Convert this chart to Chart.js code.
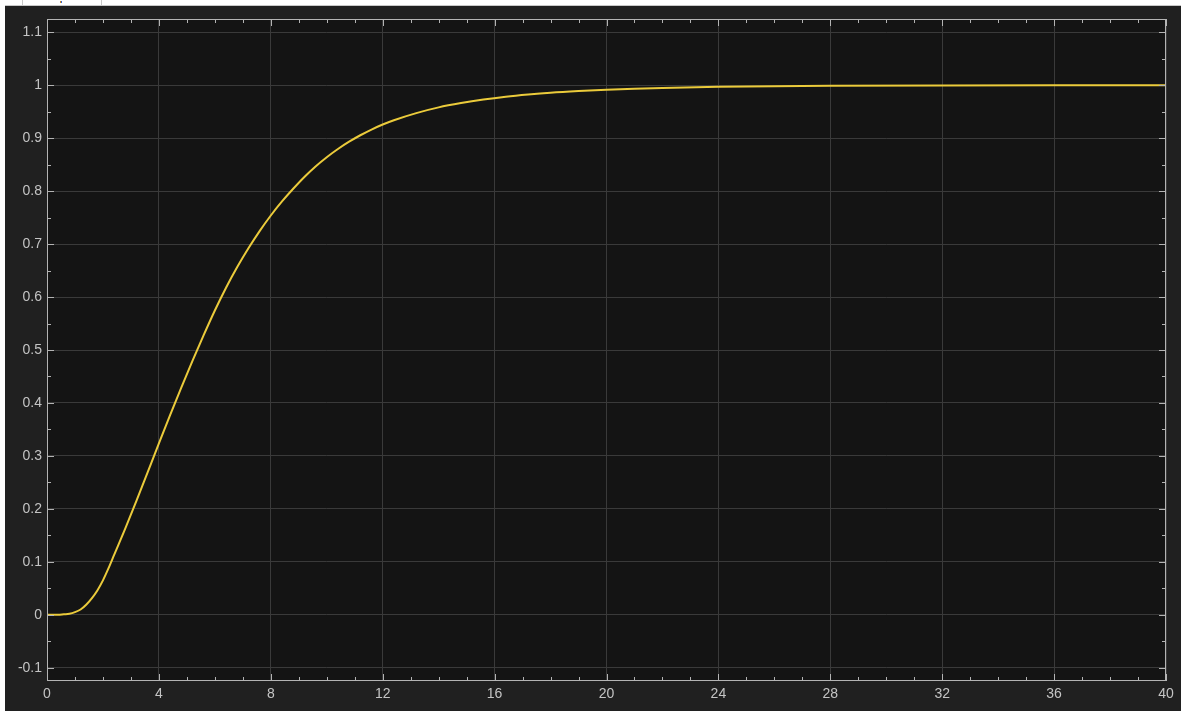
<!DOCTYPE html>
<html>
<head>
<meta charset="utf-8">
<script src="https://cdn.jsdelivr.net/npm/chart.js@4/dist/chart.umd.min.js"></script>
<style>
  html, body { margin: 0; padding: 0; background: #ffffff; }
  #wrap { position: relative; width: 1181px; height: 711px; }
</style>
</head>
<body>
<div id="wrap"><canvas id="scope"></canvas></div>
<script>
// step response samples (time in s, output)
const timeValues = [0, 0.4, 0.6, 0.8, 1.0, 1.2, 1.4, 1.6, 1.8, 2.0, 2.2, 2.4, 2.8, 3.2, 3.6, 4.0,
    4.4, 4.8, 5.2, 5.6, 6.0, 6.4, 6.8, 7.2, 7.6, 8.0, 8.4, 8.8, 9.2, 9.6, 10.0, 10.4, 10.8,
    11.2, 11.6, 12.0, 12.4, 13.2, 14.0, 14.8, 15.6, 16.4, 17.2, 18.0, 19.0, 20.0, 21.0, 22.0,
    24.0, 26.0, 28.0, 32.0, 36.0, 40.0];
const outputValues = [0, 0, 0.001, 0.002, 0.005, 0.010, 0.019, 0.031, 0.046, 0.065, 0.088,
    0.113, 0.163, 0.2155, 0.2695, 0.3235, 0.377, 0.429, 0.4795, 0.528, 0.5745, 0.6175, 0.6565,
    0.692, 0.7245, 0.754, 0.7805, 0.8045, 0.8268, 0.8466, 0.8641, 0.8796, 0.8933, 0.9055,
    0.9163, 0.9258, 0.9338, 0.9473, 0.9581, 0.9662, 0.9728, 0.9781, 0.9823, 0.9858, 0.989,
    0.9915, 0.9934, 0.9949, 0.9969, 0.9981, 0.9989, 0.9996, 0.9999, 1.0];

const xTicks = [0, 4, 8, 12, 16, 20, 24, 28, 32, 36, 40];
const yTicks = [-0.1, 0, 0.1, 0.2, 0.3, 0.4, 0.5, 0.6, 0.7, 0.8, 0.9, 1, 1.1];
const xLimits = [0, 40];
const yLimits = [-0.125, 1.125];

const FRAME = '#202020';
const PLOT_BG = '#141414';
const GRID = '#3a3a3a';
const AXIS = '#b4b4b4';
const LABEL = '#c4c4c4';
const TRACE = '#ebcb3b';

const canvas = document.getElementById('scope');
canvas.width = 1181;
canvas.height = 711;

// window frame, plot background, box and inward tick marks
const scopeFrame = {
    id: 'scopeFrame',
    beforeDraw(chart) {
        const ctx = chart.ctx;
        const a = chart.chartArea;
        ctx.save();
        ctx.fillStyle = '#ffffff';
        ctx.fillRect(0, 0, chart.width, chart.height);
        ctx.fillStyle = FRAME;
        ctx.fillRect(5, 6, chart.width - 5, chart.height - 6);
        ctx.fillStyle = '#c8c8c8';
        ctx.fillRect(5, 5, chart.width - 5, 1);
        ctx.fillRect(22, 0, 1, 5);
        ctx.fillRect(101, 0, 1, 5);
        ctx.fillStyle = '#d08a2a';
        ctx.fillRect(60, 1, 1, 2);
        ctx.fillStyle = '#3a6ad0';
        ctx.fillRect(61, 1, 1, 2);
        ctx.fillStyle = PLOT_BG;
        ctx.fillRect(a.left, a.top, a.right - a.left, a.bottom - a.top);
        ctx.restore();
    },
    afterDatasetsDraw(chart) {
        const ctx = chart.ctx;
        const a = chart.chartArea;
        const xs = chart.scales.x;
        const ys = chart.scales.y;
        ctx.save();
        ctx.strokeStyle = AXIS;
        ctx.lineWidth = 1;
        ctx.beginPath();
        for (let t = xLimits[0]; t <= xLimits[1]; t += 1) {
            const px = Math.round(xs.getPixelForValue(t)) + 0.5;
            const len = t % 4 === 0 ? 7 : 4;
            ctx.moveTo(px, a.bottom);
            ctx.lineTo(px, a.bottom - len);
            ctx.moveTo(px, a.top);
            ctx.lineTo(px, a.top + len);
        }
        for (let i = -2; i <= 22; i++) {
            const v = i * 0.05;
            const py = Math.round(ys.getPixelForValue(v)) + 0.5;
            const len = i % 2 === 0 ? 7 : 4;
            ctx.moveTo(a.left, py);
            ctx.lineTo(a.left + len, py);
            ctx.moveTo(a.right, py);
            ctx.lineTo(a.right - len, py);
        }
        ctx.stroke();
        ctx.strokeRect(a.left + 0.5, a.top + 0.5, a.right - a.left - 1, a.bottom - a.top - 1);
        ctx.restore();
    }
};

new Chart(canvas, {
    type: 'line',
    data: {
        datasets: [{
            data: timeValues.map((t, i) => ({ x: t, y: outputValues[i] })),
            borderColor: TRACE,
            borderWidth: 2,
            pointRadius: 0,
            cubicInterpolationMode: 'monotone',
            fill: false
        }]
    },
    options: {
        responsive: false,
        animation: false,
        layout: { padding: { left: 0, top: 19, right: 15, bottom: 0 } },
        plugins: {
            legend: { display: false },
            tooltip: { enabled: false }
        },
        scales: {
            x: {
                type: 'linear',
                min: xLimits[0],
                max: xLimits[1],
                afterBuildTicks: scale => { scale.ticks = xTicks.map(v => ({ value: v })); },
                afterFit: scale => { scale.height = 30; },
                grid: { color: GRID, drawTicks: false },
                border: { display: false },
                ticks: {
                    color: LABEL,
                    padding: 5,
                    maxRotation: 0,
                    font: { family: 'Liberation Sans', size: 14 },
                    callback: v => String(v)
                }
            },
            y: {
                type: 'linear',
                min: yLimits[0],
                max: yLimits[1],
                afterBuildTicks: scale => { scale.ticks = yTicks.map(v => ({ value: v })); },
                afterFit: scale => { scale.width = 47; },
                grid: { color: GRID, drawTicks: false },
                border: { display: false },
                ticks: {
                    color: LABEL,
                    padding: 5,
                    font: { family: 'Liberation Sans', size: 14 },
                    callback: v => String(Math.round(v * 10) / 10)
                }
            }
        }
    },
    plugins: [scopeFrame]
});
</script>
</body>
</html>
